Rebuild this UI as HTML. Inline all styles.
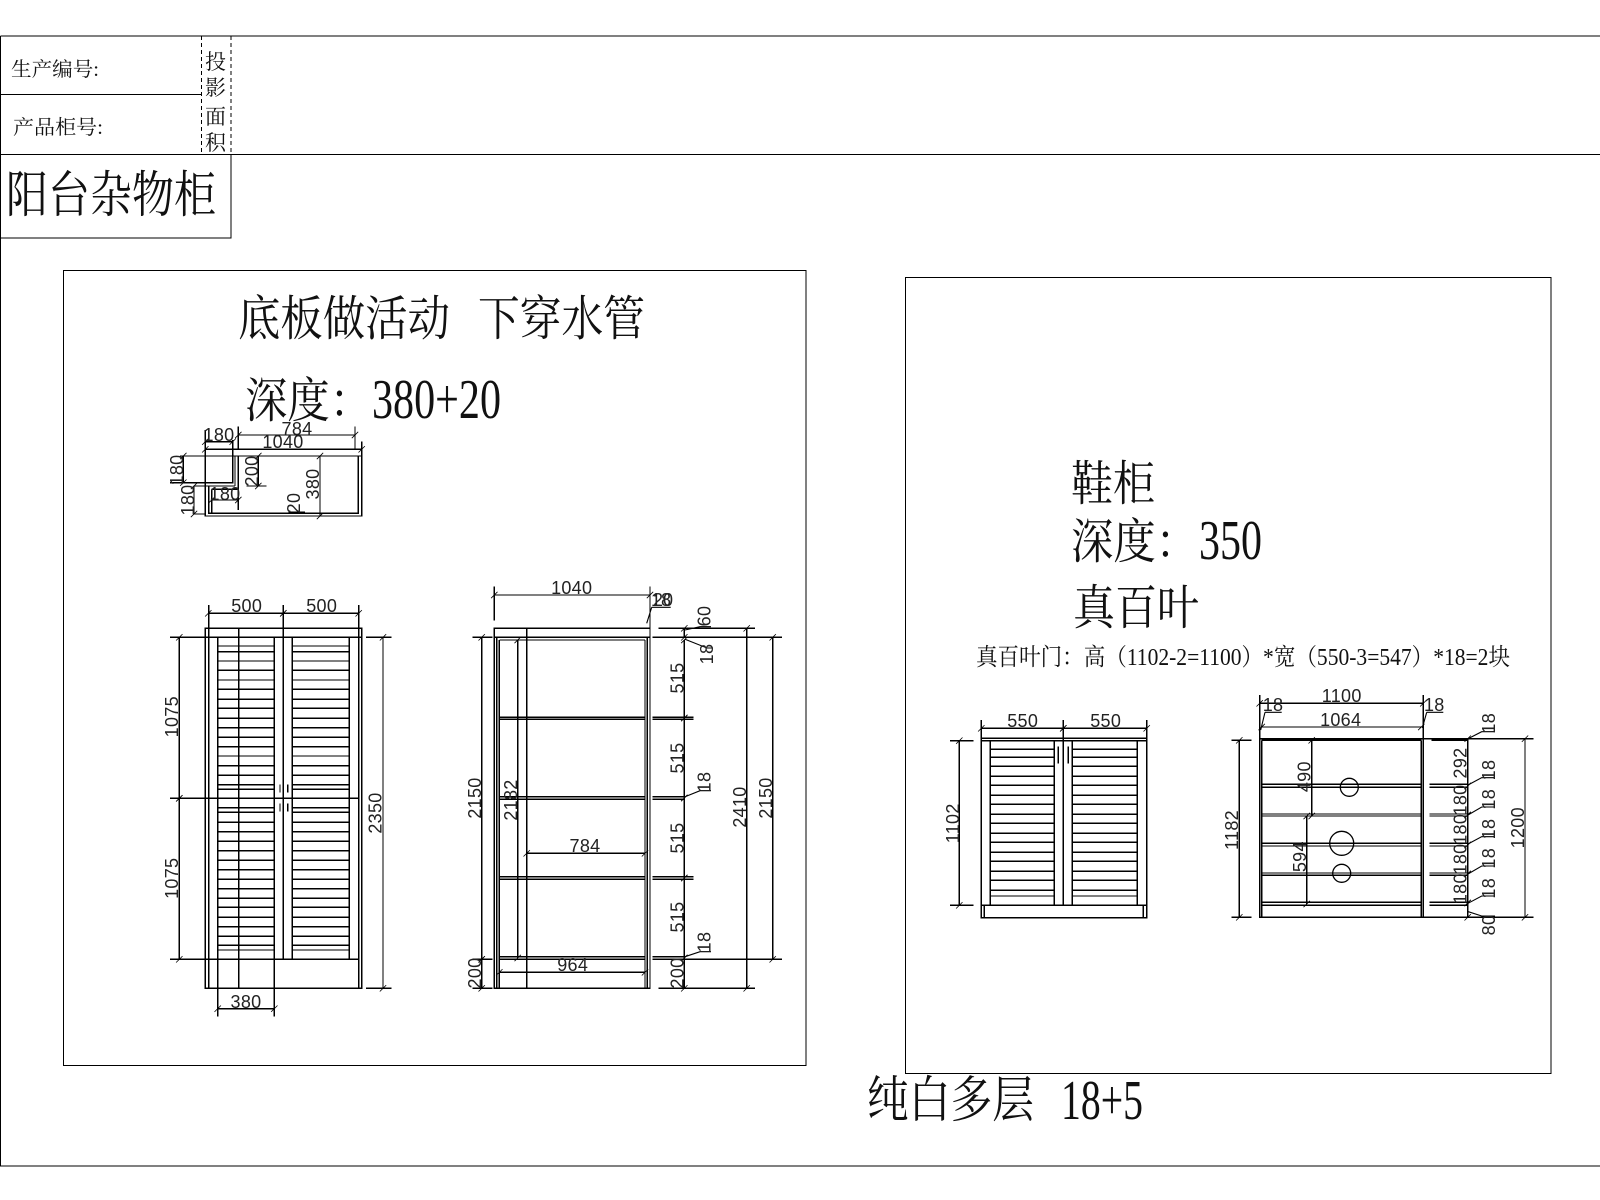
<!DOCTYPE html>
<html><head><meta charset="utf-8"><style>
html,body{margin:0;padding:0;background:#fff}
svg{display:block}
.l{fill:none;stroke:#000;stroke-width:1.3;shape-rendering:crispEdges}
.r{fill:none;stroke:#000;stroke-width:1.3}
.a{fill:none;stroke:#000;stroke-width:1.1}
.d{fill:none;stroke:#000;stroke-width:1.2;shape-rendering:crispEdges;marker-start:url(#t);marker-end:url(#t)}
.n{font-family:"Liberation Sans",sans-serif;font-size:18px;letter-spacing:.3px;text-anchor:middle;fill:#222}
.c{font-family:"Liberation Serif","Noto Serif CJK SC",serif;fill:#111}
</style></head><body>
<svg width="1600" height="1200" viewBox="0 0 1600 1200" xmlns="http://www.w3.org/2000/svg">
<defs><marker id="t" markerUnits="userSpaceOnUse" markerWidth="8" markerHeight="8" viewBox="0 0 10 10" refX="5" refY="5" overflow="visible"><path d="M1 9L9 1" stroke="#000" stroke-width="1" fill="none"/></marker></defs>
<rect width="1600" height="1200" fill="#fff"/>

<!-- frame -->
<path class="l" d="M0.5 36H1600M0.5 36V1166H1600M0 94.5H201M0 154.5H1600M231 154.5V238H0M63.5 270.5H806V1065.5H63.5ZM905.5 277.5H1551V1073.5H905.5Z"/>
<path class="l" style="stroke-dasharray:4 3" d="M201.5 36V154M231 36V154"/>
<text class="c" x="11" y="76" font-size="20" textLength="88" lengthAdjust="spacingAndGlyphs">生产编号:</text>
<text class="c" x="13" y="134" font-size="20" textLength="90" lengthAdjust="spacingAndGlyphs">产品柜号:</text>
<text class="c" x="205" y="69" font-size="21">投</text>
<text class="c" x="205" y="95" font-size="21">影</text>
<text class="c" x="205" y="124" font-size="21">面</text>
<text class="c" x="205" y="150" font-size="21">积</text>
<text class="c" x="6" y="212" font-size="50" textLength="210" lengthAdjust="spacingAndGlyphs">阳台杂物柜</text>

<!-- titles -->
<text class="c" x="238" y="335" font-size="48" textLength="212" lengthAdjust="spacingAndGlyphs">底板做活动</text>
<text class="c" x="478" y="335" font-size="48" textLength="167" lengthAdjust="spacingAndGlyphs">下穿水管</text>
<text class="c" x="245" y="417" font-size="48" textLength="127" lengthAdjust="spacingAndGlyphs">深度：</text>
<text class="c" x="372" y="418" font-size="56" textLength="129" lengthAdjust="spacingAndGlyphs">380+20</text>
<text class="c" x="1071" y="500" font-size="48" textLength="84" lengthAdjust="spacingAndGlyphs">鞋柜</text>
<text class="c" x="1071" y="558" font-size="48" textLength="127" lengthAdjust="spacingAndGlyphs">深度：</text>
<text class="c" x="1199" y="559" font-size="56" textLength="63" lengthAdjust="spacingAndGlyphs">350</text>
<text class="c" x="1073" y="624" font-size="48" textLength="126" lengthAdjust="spacingAndGlyphs">真百叶</text>
<text class="c" x="976" y="665" font-size="24" textLength="534" lengthAdjust="spacingAndGlyphs">真百叶门：高（1102-2=1100）*宽（550-3=547）*18=2块</text>
<text class="c" x="867" y="1117" font-size="50" textLength="167" lengthAdjust="spacingAndGlyphs">纯白多层</text>
<text class="c" x="1061" y="1119" font-size="56" textLength="82" lengthAdjust="spacingAndGlyphs">18+5</text>

<!-- top view -->
<path class="l" d="M205.3 430V516H361.7V449.3H205.3M180 456H361.7M170 482.7H232.7V440M235 456V486M238.3 456V489.3M208.7 486H235M208.7 486V513.3H358.3V456M211.7 489.3V513.3M211.7 489.3H238.3M238.3 426.7V449.3M355 426.7V449.3M361.7 441.7V449.3M238.3 489.3V510M193.3 486H208.7M193 514H205M246.7 486H266.7M288.3 512.3H305"/>
<line class="d" x1="238.3" y1="435" x2="355" y2="435"/>
<line class="d" x1="205.3" y1="449.3" x2="361.7" y2="449.3"/>
<line class="d" x1="205.3" y1="441.7" x2="232.7" y2="441.7"/>
<line class="d" x1="183.3" y1="456" x2="183.3" y2="482.7"/>
<line class="d" x1="194" y1="486" x2="194" y2="514"/>
<line class="d" x1="211.7" y1="500" x2="238.3" y2="500"/>
<line class="d" x1="258.3" y1="456" x2="258.3" y2="486"/>
<line class="d" x1="320" y1="456" x2="320" y2="516"/>
<text class="n" x="297" y="435">784</text>
<text class="n" x="283" y="448">1040</text>
<text class="n" x="219" y="441">180</text>
<text class="n" x="225" y="500">180</text>
<text class="n" transform="translate(183,470) rotate(-90)">180</text>
<text class="n" transform="translate(194,500) rotate(-90)">180</text>
<text class="n" transform="translate(258,471) rotate(-90)">200</text>
<text class="n" transform="translate(300,503) rotate(-90)">20</text>
<text class="n" transform="translate(319,484) rotate(-90)">380</text>

<!-- left front elevation -->
<path class="l" d="M205.3 628.3H361.7V988.3H205.3ZM208.7 605V988.3M358.7 605V988.3M170 637.3H361.7M170 798.3H358.7M170 959.3H358.7M217.7 637.3V1016.7M274.3 637.3V1016.7M283.3 605V959.3M292.3 637.3V959.3M349.3 637.3V959.3M238.7 628.3V988.3M366 637.3H391.7M366 988.3H391.7"/>
<path class="l" d="M217.7 646H274.3M292.3 646H349.3M217.7 651.7H274.3M292.3 651.7H349.3M217.7 661H274.3M292.3 661H349.3M217.7 670.3H274.3M292.3 670.3H349.3M217.7 680H274.3M292.3 680H349.3M217.7 689.3H274.3M292.3 689.3H349.3M217.7 699.3H274.3M292.3 699.3H349.3M217.7 708.3H274.3M292.3 708.3H349.3M217.7 718.3H274.3M292.3 718.3H349.3M217.7 727.7H274.3M292.3 727.7H349.3M217.7 737.3H274.3M292.3 737.3H349.3M217.7 746.7H274.3M292.3 746.7H349.3M217.7 756H274.3M292.3 756H349.3M217.7 765.7H274.3M292.3 765.7H349.3M217.7 775.3H274.3M292.3 775.3H349.3M217.7 784.7H274.3M292.3 784.7H349.3M217.7 789.3H274.3M292.3 789.3H349.3M217.7 807.7H274.3M292.3 807.7H349.3M217.7 812.3H274.3M292.3 812.3H349.3M217.7 822.3H274.3M292.3 822.3H349.3M217.7 831.7H274.3M292.3 831.7H349.3M217.7 841.3H274.3M292.3 841.3H349.3M217.7 850.7H274.3M292.3 850.7H349.3M217.7 860.3H274.3M292.3 860.3H349.3M217.7 869.7H274.3M292.3 869.7H349.3M217.7 879.3H274.3M292.3 879.3H349.3M217.7 888.7H274.3M292.3 888.7H349.3M217.7 898.3H274.3M292.3 898.3H349.3M217.7 907.3H274.3M292.3 907.3H349.3M217.7 917.3H274.3M292.3 917.3H349.3M217.7 926.7H274.3M292.3 926.7H349.3M217.7 936.3H274.3M292.3 936.3H349.3M217.7 945.3H274.3M292.3 945.3H349.3M217.7 950H274.3M292.3 950H349.3"/>
<path class="l" d="M280 784.3V792.7M287.7 784.3V792.7M280 803.3V811.7M287.7 803.3V811.7"/>
<line class="d" x1="208.3" y1="613.3" x2="283.3" y2="613.3"/>
<line class="d" x1="283.3" y1="613.3" x2="358.7" y2="613.3"/>
<line class="d" x1="179.3" y1="637.3" x2="179.3" y2="798.3"/>
<line class="d" x1="179.3" y1="798.3" x2="179.3" y2="959.3"/>
<line class="d" x1="383" y1="637.3" x2="383" y2="988.3"/>
<line class="d" x1="217.7" y1="1008.7" x2="274.3" y2="1008.7"/>
<text class="n" x="246.7" y="612">500</text>
<text class="n" x="321.7" y="612">500</text>
<text class="n" x="246" y="1008">380</text>
<text class="n" transform="translate(178,716.7) rotate(-90)">1075</text>
<text class="n" transform="translate(178,878.3) rotate(-90)">1075</text>
<text class="n" transform="translate(381.7,813) rotate(-90)">2350</text>

<!-- left side view -->
<path class="l" d="M494.3 628.3H650V988.3H494.3ZM496.7 637.3V988.3M499.3 640V988.3M645 640V988.3M647.3 637.3V988.3M526.7 628.3V988.3M494.3 637.3H650M499.3 640H645M499.3 717.3H645M499.3 719.3H645M499.3 796.7H645M499.3 799.3H645M499.3 876.7H645M499.3 879.3H645M499.3 956.7H645M499.3 959.3H645M494.3 586.7V620.7M650 586.7V628.3M652.7 637.3H782M658.3 628.3H755M652.7 717.3H693.3M652.7 719.3H693.3M652.7 796.7H685M652.7 799.3H685M652.7 876.7H693.3M652.7 879.3H693.3M652.7 956.7H685M652.7 959.3H782M658.3 988.3H755M472.7 637.3H492.7M472.7 959.3H492.7M472.7 988.3H492.7"/>
<line class="d" x1="494.3" y1="595" x2="650" y2="595"/>
<line class="d" x1="526.7" y1="853.3" x2="645" y2="853.3"/>
<line class="d" x1="499.3" y1="972.3" x2="645" y2="972.3"/>
<line class="d" x1="517.7" y1="640" x2="517.7" y2="958"/>
<line class="d" x1="481.7" y1="637.3" x2="481.7" y2="959.3"/>
<line class="d" x1="481.7" y1="959.3" x2="481.7" y2="988.3"/>
<line class="d" x1="684.3" y1="628.3" x2="684.3" y2="637.3"/>
<line class="d" x1="684.3" y1="640" x2="684.3" y2="718"/>
<line class="d" x1="684.3" y1="718" x2="684.3" y2="798"/>
<line class="d" x1="684.3" y1="798" x2="684.3" y2="878"/>
<line class="d" x1="684.3" y1="878" x2="684.3" y2="958"/>
<line class="d" x1="684.3" y1="958" x2="684.3" y2="988.3"/>
<line class="d" x1="746.7" y1="628.3" x2="746.7" y2="988.3"/>
<line class="d" x1="772.7" y1="637.3" x2="772.7" y2="959.3"/>
<path class="a" d="M685 630L700 626.7H711M685 639.3L707 648H713M685 796.7L700 790.7H711M685 956.7L700 951.7H711M651.7 607.3H670.7M651.7 607.3L646.7 623.3"/>
<text class="n" x="571.7" y="594">1040</text>
<text class="n" x="585" y="852">784</text>
<text class="n" x="572.7" y="971">964</text>
<text class="n" x="661" y="606" style="letter-spacing:0">18</text>
<text class="n" x="663" y="606" style="letter-spacing:0">20</text>
<text class="n" transform="translate(481,798) rotate(-90)">2150</text>
<text class="n" transform="translate(517,800) rotate(-90)">2182</text>
<text class="n" transform="translate(481,973) rotate(-90)">200</text>
<text class="n" transform="translate(683.5,973) rotate(-90)">200</text>
<text class="n" transform="translate(683.5,678) rotate(-90)">515</text>
<text class="n" transform="translate(683.5,758) rotate(-90)">515</text>
<text class="n" transform="translate(683.5,838) rotate(-90)">515</text>
<text class="n" transform="translate(683.5,917) rotate(-90)">515</text>
<text class="n" transform="translate(710.7,616) rotate(-90)">60</text>
<text class="n" transform="translate(713,654) rotate(-90)">18</text>
<text class="n" transform="translate(710.7,782) rotate(-90)">18</text>
<text class="n" transform="translate(710.7,942) rotate(-90)">18</text>
<text class="n" transform="translate(746,807) rotate(-90)">2410</text>
<text class="n" transform="translate(772,798) rotate(-90)">2150</text>

<!-- right front elevation -->
<path class="l" d="M981.3 738.3H1146.7V917.7H981.3ZM981.3 740.7H1146.7M981.3 905.3H1146.7M990.3 740.7V905.3M1054.3 740.7V905.3M1063.3 720V905.3M1072.3 740.7V905.3M1137.3 740.7V905.3M984.3 905.3V917.7M1143.3 905.3V917.7M981.3 720V738M1146.7 720V738M950 740.7H973.3M950 905.3H973.3M1058.3 746.7V763.3M1068.3 746.7V763.3"/>
<path class="l" d="M990.3 749.3H1054.3M1072.3 749.3H1137.3M990.3 757.3H1054.3M1072.3 757.3H1137.3M990.3 766.3H1054.3M1072.3 766.3H1137.3M990.3 776.3H1054.3M1072.3 776.3H1137.3M990.3 785.3H1054.3M1072.3 785.3H1137.3M990.3 795.3H1054.3M1072.3 795.3H1137.3M990.3 804.3H1054.3M1072.3 804.3H1137.3M990.3 814.3H1054.3M1072.3 814.3H1137.3M990.3 823.3H1054.3M1072.3 823.3H1137.3M990.3 833.3H1054.3M1072.3 833.3H1137.3M990.3 842.3H1054.3M1072.3 842.3H1137.3M990.3 852.3H1054.3M1072.3 852.3H1137.3M990.3 861.3H1054.3M1072.3 861.3H1137.3M990.3 871.3H1054.3M1072.3 871.3H1137.3M990.3 880.3H1054.3M1072.3 880.3H1137.3M990.3 890.3H1054.3M1072.3 890.3H1137.3M990.3 896H1054.3M1072.3 896H1137.3"/>
<line class="d" x1="981.3" y1="728.3" x2="1063.3" y2="728.3"/>
<line class="d" x1="1063.3" y1="728.3" x2="1146.7" y2="728.3"/>
<line class="d" x1="959.3" y1="740.7" x2="959.3" y2="905.3"/>
<text class="n" x="1022.7" y="727">550</text>
<text class="n" x="1105.7" y="727">550</text>
<text class="n" transform="translate(959,823.3) rotate(-90)">1102</text>

<!-- right side view -->
<path class="l" d="M1259.7 738.7H1423.3V917.3H1259.7ZM1261.7 740.3V917.3M1421.3 740.3V917.3M1261.7 740.3H1421.3M1259.7 695V738.7M1423.3 695V738.7M1423.3 738.7H1533.3M1231.7 740.3H1251.7M1231.7 917.3H1251.7M1423.3 917.3H1533.3M1431.7 740.3H1468"/>
<path class="l" d="M1261.7 784.3H1421.3M1261.7 787.3H1421.3M1261.7 814H1421.3M1261.7 816H1421.3M1261.7 843.3H1421.3M1261.7 846H1421.3M1261.7 873H1421.3M1261.7 875.3H1421.3M1261.7 902.3H1421.3M1261.7 905.3H1421.3M1429.3 784.3H1468.3M1429.3 787.3H1468.3M1429.3 814H1468.3M1429.3 816H1468.3M1429.3 843.3H1468.3M1429.3 846H1468.3M1429.3 873H1468.3M1429.3 875.3H1468.3M1429.3 902.3H1468.3M1429.3 905.3H1468.3"/>
<circle class="r" cx="1349.3" cy="787.3" r="9"/>
<circle class="r" cx="1341.7" cy="843.3" r="12"/>
<circle class="r" cx="1341.7" cy="873.3" r="9"/>
<line class="d" x1="1259.7" y1="703.3" x2="1423.3" y2="703.3"/>
<line class="d" x1="1261.7" y1="727" x2="1421.3" y2="727"/>
<line class="d" x1="1239.3" y1="740.3" x2="1239.3" y2="917.3"/>
<line class="d" x1="1525" y1="738.7" x2="1525" y2="917.3"/>
<line class="d" x1="1311.7" y1="740.3" x2="1311.7" y2="816"/>
<line class="d" x1="1306.7" y1="816" x2="1306.7" y2="904"/>
<line class="d" x1="1467.7" y1="738.7" x2="1467.7" y2="786"/>
<line class="d" x1="1467.7" y1="786" x2="1467.7" y2="815"/>
<line class="d" x1="1467.7" y1="815" x2="1467.7" y2="845"/>
<line class="d" x1="1467.7" y1="845" x2="1467.7" y2="874"/>
<line class="d" x1="1467.7" y1="874" x2="1467.7" y2="903"/>
<line class="d" x1="1467.7" y1="903" x2="1467.7" y2="917.3"/>
<path class="a" d="M1265 712.3H1281.7M1265 712.3L1260.7 730M1426.7 712.3H1443.3M1426.7 712.3L1422.3 728M1468 738.7L1481.7 731.7H1495M1468 785L1481.7 777.7H1495M1468 815L1481.7 807H1495M1468 844L1481.7 836.7H1495M1468 874L1481.7 866H1495M1468 903.3L1481.7 896H1495M1468.3 911.7L1481.7 916H1495"/>
<text class="n" x="1341.7" y="702">1100</text>
<text class="n" x="1340.7" y="726">1064</text>
<text class="n" x="1273" y="711">18</text>
<text class="n" x="1434.3" y="711">18</text>
<text class="n" transform="translate(1238,830) rotate(-90)">1182</text>
<text class="n" transform="translate(1524,827.7) rotate(-90)">1200</text>
<text class="n" transform="translate(1310.7,776.7) rotate(-90)">490</text>
<text class="n" transform="translate(1306,856.7) rotate(-90)">594</text>
<text class="n" transform="translate(1466.7,763) rotate(-90)">292</text>
<text class="n" transform="translate(1466.7,800) rotate(-90)">180</text>
<text class="n" transform="translate(1466.7,829.3) rotate(-90)">180</text>
<text class="n" transform="translate(1466.7,859) rotate(-90)">180</text>
<text class="n" transform="translate(1466.7,888.7) rotate(-90)">180</text>
<text class="n" transform="translate(1495,723.3) rotate(-90)">18</text>
<text class="n" transform="translate(1495,770) rotate(-90)">18</text>
<text class="n" transform="translate(1495,799.3) rotate(-90)">18</text>
<text class="n" transform="translate(1495,829) rotate(-90)">18</text>
<text class="n" transform="translate(1495,858.3) rotate(-90)">18</text>
<text class="n" transform="translate(1495,888.3) rotate(-90)">18</text>
<text class="n" transform="translate(1495,925) rotate(-90)">80</text>
</svg>
</body></html>
